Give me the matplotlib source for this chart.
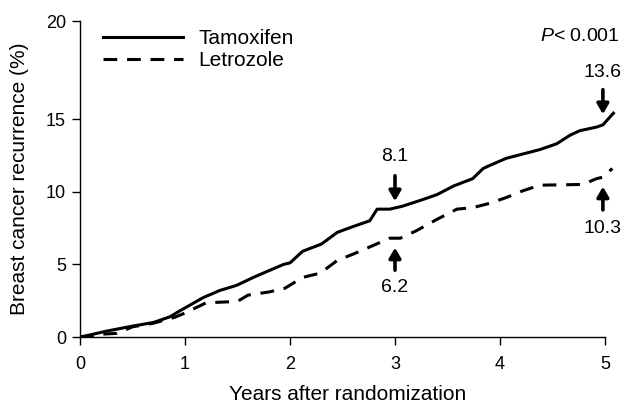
import numpy as np
import matplotlib.pyplot as plt

plt.rcParams['font.family'] = ['Liberation Sans', 'DejaVu Sans']
plt.rcParams['mathtext.fontset'] = 'custom'
plt.rcParams['mathtext.it'] = 'Liberation Sans:italic'
plt.rcParams['mathtext.rm'] = 'Liberation Sans'

# cumulative recurrence (%)
tam_years = [0.0, 0.1, 0.25, 0.5, 0.7, 0.86, 0.95, 1.0, 1.17, 1.33, 1.49, 1.65, 1.81,
             1.94, 2.0, 2.12, 2.3, 2.45, 2.6, 2.76, 2.83, 2.95, 3.07, 3.24, 3.40,
             3.56, 3.74, 3.84, 3.90, 4.06, 4.22, 4.38, 4.54, 4.67, 4.76, 4.92, 4.98, 5.08]
tam_pct = [0.0, 0.15, 0.4, 0.75, 1.0, 1.4, 1.8, 2.0, 2.7, 3.2, 3.55, 4.1, 4.6,
           5.0, 5.1, 5.9, 6.4, 7.2, 7.6, 8.0, 8.8, 8.8, 9.0, 9.4, 9.8,
           10.4, 10.9, 11.6, 11.8, 12.3, 12.6, 12.9, 13.3, 13.9, 14.2, 14.45, 14.6, 15.3]

let_years = [0.0, 0.1, 0.22, 0.35, 0.5, 0.7, 0.9, 1.0, 1.2, 1.5, 1.6, 1.8, 1.95,
             2.12, 2.29, 2.45, 2.6, 2.76, 2.95, 3.05, 3.2, 3.4, 3.59, 3.74, 3.9,
             4.06, 4.22, 4.38, 4.79, 4.92, 4.98, 5.07]
let_pct = [0.0, 0.05, 0.2, 0.25, 0.7, 0.95, 1.35, 1.65, 2.35, 2.45, 2.88, 3.1, 3.35,
           4.1, 4.4, 5.27, 5.7, 6.2, 6.8, 6.8, 7.3, 8.1, 8.8, 8.9, 9.2,
           9.6, 10.07, 10.45, 10.5, 10.9, 11.0, 11.6]

# arrow callouts: (x, label, arrow tail y, arrow head y, label y)
callouts = [(3.0, '8.1', 11.1, 9.35, 12.4),
            (3.0, '6.2', 4.6, 6.15, 3.4),
            (4.98, '13.6', 16.5, 15.25, 17.35),
            (4.98, '10.3', 8.75, 10.35, 7.5)]


# y axis is stretched above 15 in the original figure
k = 1.35
def fwd(y):
    y = np.asarray(y, dtype=float)
    return np.where(y <= 15, y, 15 + (y - 15) * k)

def inv(y):
    y = np.asarray(y, dtype=float)
    return np.where(y <= 15, y, 15 + (y - 15) / k)


fig = plt.figure(figsize=(6.24, 4.04), dpi=100)
ax = fig.add_axes([80 / 624, 67 / 404, 535.5 / 624, 316 / 404])
ax.set_yscale('function', functions=(fwd, inv))

ax.plot(tam_years, tam_pct, color='black', lw=2.2, label='Tamoxifen')
ax.plot(let_years, let_pct, color='black', lw=2.2, ls=(0, (4.5, 3.2)), label='Letrozole')

for x, lab, y0, y1, yt in callouts:
    ax.annotate('', xy=(x, y1), xytext=(x, y0),
                arrowprops=dict(arrowstyle='-|>,head_width=0.35,head_length=0.6',
                                color='black', lw=2.6, shrinkA=0, shrinkB=0))
    ax.text(x, yt, lab, ha='center', va='center', fontsize=14)

ax.text(5.14, 19.2, '$P$< 0.001', ha='right', va='center', fontsize=14)

ax.set_xlim(0, 5.1)
ax.set_ylim(0, 20)
ax.set_xticks([0, 1, 2, 3, 4, 5])
ax.set_yticks([0, 5, 10, 15, 20])
ax.spines['top'].set_visible(False)
ax.spines['right'].set_visible(False)
ax.spines['bottom'].set_bounds(0, 5)
for s in ('left', 'bottom'):
    ax.spines[s].set_linewidth(1.0)
ax.tick_params(direction='out', length=6, width=1.0, labelsize=13)
ax.tick_params(axis='x', pad=8)
ax.tick_params(axis='y', pad=4)

ax.set_xlabel('Years after randomization', fontsize=15, labelpad=8)
ax.set_ylabel('Breast cancer recurrence (%)', fontsize=15, labelpad=12)

ax.legend(loc='upper left', bbox_to_anchor=(0.043, 0.975), frameon=False,
          borderpad=0, borderaxespad=0, handlelength=3.85, handletextpad=0.72,
          labelspacing=0.15, fontsize=15)

fig.savefig('out.png', dpi=100)
